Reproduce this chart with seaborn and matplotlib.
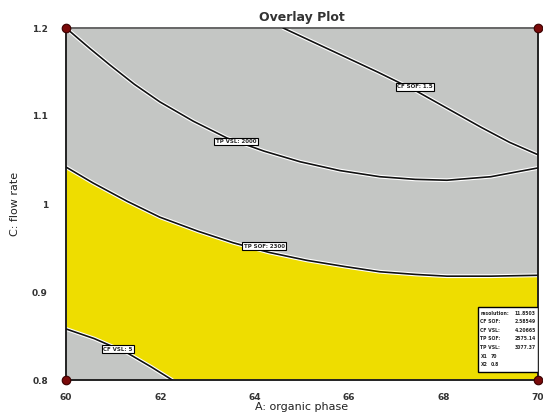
import numpy as np
import pandas as pd
import matplotlib
matplotlib.use("Agg")
import matplotlib.pyplot as plt
import seaborn as sns

# ---- data ----
x_ticks = [60, 62, 64, 66, 68, 70]
y_ticks = [0.8, 0.9, 1.0, 1.1, 1.2]
y_ticklabels = ["0.8", "0.9", "1", "1.1", "1.2"]

cf_sof_x = [64.6, 65.2, 65.8, 66.6, 67.4, 68.1, 68.8, 69.4, 70.0]
cf_sof_y = [1.200, 1.185, 1.170, 1.150, 1.129, 1.108, 1.087, 1.070, 1.056]

tp_vsl_x = [60.0, 60.5, 60.93, 61.45, 61.99, 62.7, 63.41, 64.2, 64.96, 65.8, 66.65, 67.4, 68.07, 69.0, 70.0]
tp_vsl_y = [1.200, 1.177, 1.158, 1.136, 1.116, 1.094, 1.075, 1.060, 1.048, 1.038, 1.031, 1.028, 1.027, 1.031, 1.041]

tp_sof_x = [60.0, 60.57, 61.3, 61.99, 62.8, 63.54, 64.3, 65.1, 65.9, 66.65, 67.4, 68.07, 69.0, 70.0]
tp_sof_y = [1.042, 1.024, 1.003, 0.985, 0.969, 0.956, 0.945, 0.936, 0.929, 0.923, 0.920, 0.918, 0.918, 0.919]

cf_vsl_x = [60.0, 60.6, 61.29, 61.8, 62.25]
cf_vsl_y = [0.858, 0.847, 0.831, 0.815, 0.800]

contour_labels = ["CF SOF: 1.5", "TP VSL: 2000", "TP SOF: 2300", "CF VSL: 5"]
label_pos_x = [67.39, 63.6, 64.2, 61.1]
label_pos_y = [1.133, 1.071, 0.952, 0.835]

flag_names = ["resolution:", "CF SOF:", "CF VSL:", "TP SOF:", "TP VSL:", "X1", "X2"]
flag_values = ["11.8503", "2.58549", "4.20665", "2575.14", "3077.37", "70", "0.8"]

corner_x = [60, 60, 70, 70]
corner_y = [0.8, 1.2, 0.8, 1.2]

# ---- styling ----
sns.set_style("white")
plt.rcParams["font.family"] = ["DejaVu Sans"]

GREY = "#c4c6c4"
YELLOW = "#eedd00"

fig = plt.figure(figsize=(5.43, 4.13), dpi=100)
ax = fig.add_axes([66 / 543, 33 / 413, 472 / 543, 352 / 413])
ax.set_facecolor(GREY)
ax.set_xlim(60, 70)
ax.set_ylim(0.8, 1.2)

# yellow feasible region: below TP SOF curve, above CF VSL curve
poly_x = list(tp_sof_x) + [70.0, cf_vsl_x[-1]] + list(cf_vsl_x[::-1])
poly_y = list(tp_sof_y) + [0.8, 0.8] + list(cf_vsl_y[::-1])
ax.fill(poly_x, poly_y, color=YELLOW, lw=0, zorder=1)

curves = [(cf_sof_x, cf_sof_y), (tp_vsl_x, tp_vsl_y), (tp_sof_x, tp_sof_y), (cf_vsl_x, cf_vsl_y)]
for cx, cy in curves:
    df = pd.DataFrame({"x": cx, "y": cy})
    sns.lineplot(data=df, x="x", y="y", ax=ax, color="white", lw=2.8, sort=False, zorder=2)
    sns.lineplot(data=df, x="x", y="y", ax=ax, color="#111111", lw=1.2, sort=False, zorder=3)

for lab, lx, ly in zip(contour_labels, label_pos_x, label_pos_y):
    ax.text(lx, ly, lab, fontsize=4, fontweight="bold", ha="center", va="center", zorder=5,
            bbox=dict(boxstyle="square,pad=0.25", fc="white", ec="black", lw=0.8))

# flag box
ax.add_patch(plt.Rectangle((0.873, 0.023), 0.127, 0.184, transform=ax.transAxes,
                           fc="white", ec="black", lw=1.0, zorder=6))
for i, (n, v) in enumerate(zip(flag_names, flag_values)):
    yy = 0.19 - i * 0.0245
    ax.text(0.878, yy, n, transform=ax.transAxes, fontsize=3.3, fontweight="bold",
            va="center", ha="left", zorder=7)
    if n not in ("X1", "X2"):
        ax.text(0.995, yy, v, transform=ax.transAxes, fontsize=3.3, fontweight="bold",
                va="center", ha="right", zorder=7)
    else:
        ax.text(0.900, yy, v, transform=ax.transAxes, fontsize=3.3, fontweight="bold",
                va="center", ha="left", zorder=7)

# corner design points
ax.scatter(corner_x, corner_y, s=38, color="#7a0a0a", edgecolor="#3a0000", lw=0.8,
           zorder=10, clip_on=False)

# spines
for side in ["left", "bottom", "right"]:
    ax.spines[side].set_color("#222222")
    ax.spines[side].set_linewidth(1.4)
ax.spines["top"].set_color("#666666")
ax.spines["top"].set_linewidth(1.4)

ax.set_xticks(x_ticks)
ax.set_xticklabels([str(t) for t in x_ticks])
ax.set_yticks(y_ticks)
ax.set_yticklabels(y_ticklabels)
ax.tick_params(axis="x", direction="out", length=7, width=1.0, color="#222222",
               labelsize=6.5, labelcolor="#333333", pad=2)
ax.tick_params(axis="y", direction="out", length=10, width=1.0, color="#222222",
               labelsize=6.5, labelcolor="#333333", pad=3)
for t in ax.get_xticklabels() + ax.get_yticklabels():
    t.set_fontweight("bold")

ax.set_xlabel("A: organic phase", fontsize=8, color="#222222", labelpad=0)
ax.set_ylabel("C: flow rate", fontsize=8, color="#222222", labelpad=9)
ax.set_title("Overlay Plot", fontsize=9, fontweight="bold", color="#333333", pad=5)

fig.savefig("out.png", dpi=100)
